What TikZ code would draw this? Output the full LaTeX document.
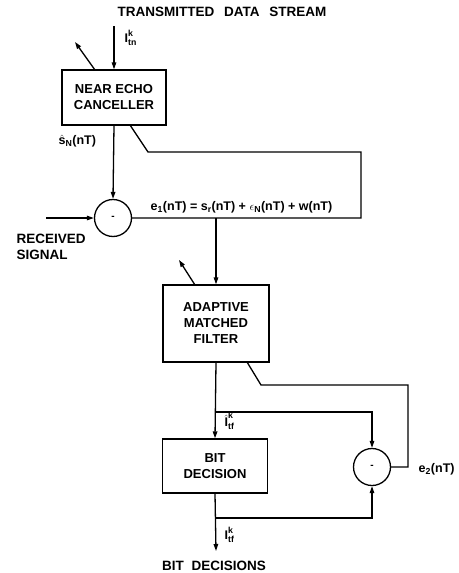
\documentclass[tikz,border=0pt]{standalone}
\usepackage{amsmath}
\usepackage{fontspec}
\setmainfont{Liberation Sans}
\usetikzlibrary{arrows.meta}
\begin{document}
\begin{tikzpicture}[x=1pt,y=-1pt,
  line width=1.3pt,
  every node/.style={font=\bfseries},
  blk/.style={draw,rectangle,align=center,font=\fontsize{13}{16}\selectfont\bfseries,inner sep=0pt},
  sumc/.style={draw,circle,minimum size=37pt,inner sep=0pt,font=\bfseries},
  arr/.style={-{Triangle[length=7pt,width=4.5pt]}},
  lbl/.style={font=\fontsize{12.5}{15}\selectfont\bfseries,inner sep=0pt},
  big/.style={font=\fontsize{13.5}{16}\selectfont\bfseries,inner sep=0pt}]
\useasboundingbox (0,0) rectangle (458,573);
% blocks
\node[blk,minimum width=104pt,minimum height=55pt] (nec) at (114,97.5) {NEAR ECHO\\CANCELLER};
\node[blk,minimum width=106pt,minimum height=77pt] (amf) at (216,323.5) {ADAPTIVE\\MATCHED\\FILTER};
\node[blk,minimum width=105pt,minimum height=54pt] (bd) at (215,466) {BIT\\DECISION};
\node[sumc] (c1) at (113,218) {-};
\node[sumc] (c2) at (372,467) {-};
% coordinates
\coordinate (tin) at (114,26);
\coordinate (neca) at (95,70);
\coordinate (necb) at (75,42);
\coordinate (nd1) at (130,125);
\coordinate (nd2) at (148,152);
\coordinate (nd3) at (361,152);
\coordinate (nd4) at (361,218);
\coordinate (rs) at (46,218);
\coordinate (j1) at (216,218);
\coordinate (amfa) at (195,285);
\coordinate (amfb) at (179,260);
\coordinate (ad1) at (247,362);
\coordinate (ad2) at (261,385);
\coordinate (ad3) at (408,385);
\coordinate (ad4) at (408,467);
\coordinate (j2) at (216,412);
\coordinate (k2) at (372,412);
\coordinate (j3) at (216,518);
\coordinate (k3) at (372,518);
\coordinate (out) at (216,551);
% connectors
\draw[arr] (tin) -- (nec.north);
\draw[arr] (neca) -- (necb);
\draw[arr] (nec.south) -- (c1.north);
\draw (nd1) -- (nd2) -- (nd3) -- (nd4) -- (c1.east);
\draw[arr] (rs) -- (c1.west);
\draw[arr] (j1) -- (amf.north);
\draw[arr] (amfa) -- (amfb);
\draw[arr] (amf.south) -- (bd.north);
\draw[arr] (j2) -- (k2) -- (c2.north);
\draw (ad1) -- (ad2) -- (ad3) -- (ad4) -- (c2.east);
\draw[arr] (bd.south) -- (out);
\draw[arr] (j3) -- (k3) -- (c2.south);
% labels
\node[big] (t1) at (222,12) {TRANSMITTED\hspace{6pt} DATA\hspace{6pt} STREAM};
\node[big] (t2) at (214,566) {BIT\hspace{4pt} DECISIONS};
\node[big,align=left,anchor=west] (t3) at (16,246.5) {RECEIVED\\SIGNAL};
\node[lbl,anchor=west] (l1) at (124,38) {$\text{I}^{\text{k}}_{\text{tn}}$};
\node[lbl,anchor=west] (l2) at (58,141) {$\hat{\text{s}}_{\text{N}}$(nT)};
\node[lbl,anchor=west] (l3) at (150,207) {e$_{\text{1}}$(nT) = s$_{\text{r}}$(nT) + $\epsilon_{\text{N}}$(nT) + w(nT)};
\node[lbl,anchor=west] (l4) at (224,421) {$\hat{\text{I}}^{\text{k}}_{\text{tf}}$};
\node[lbl,anchor=west] (l5) at (224,535) {$\text{I}^{\text{k}}_{\text{tf}}$};
\node[lbl,anchor=west] (l6) at (418,469) {e$_{\text{2}}$(nT)};
\end{tikzpicture}
\end{document}
